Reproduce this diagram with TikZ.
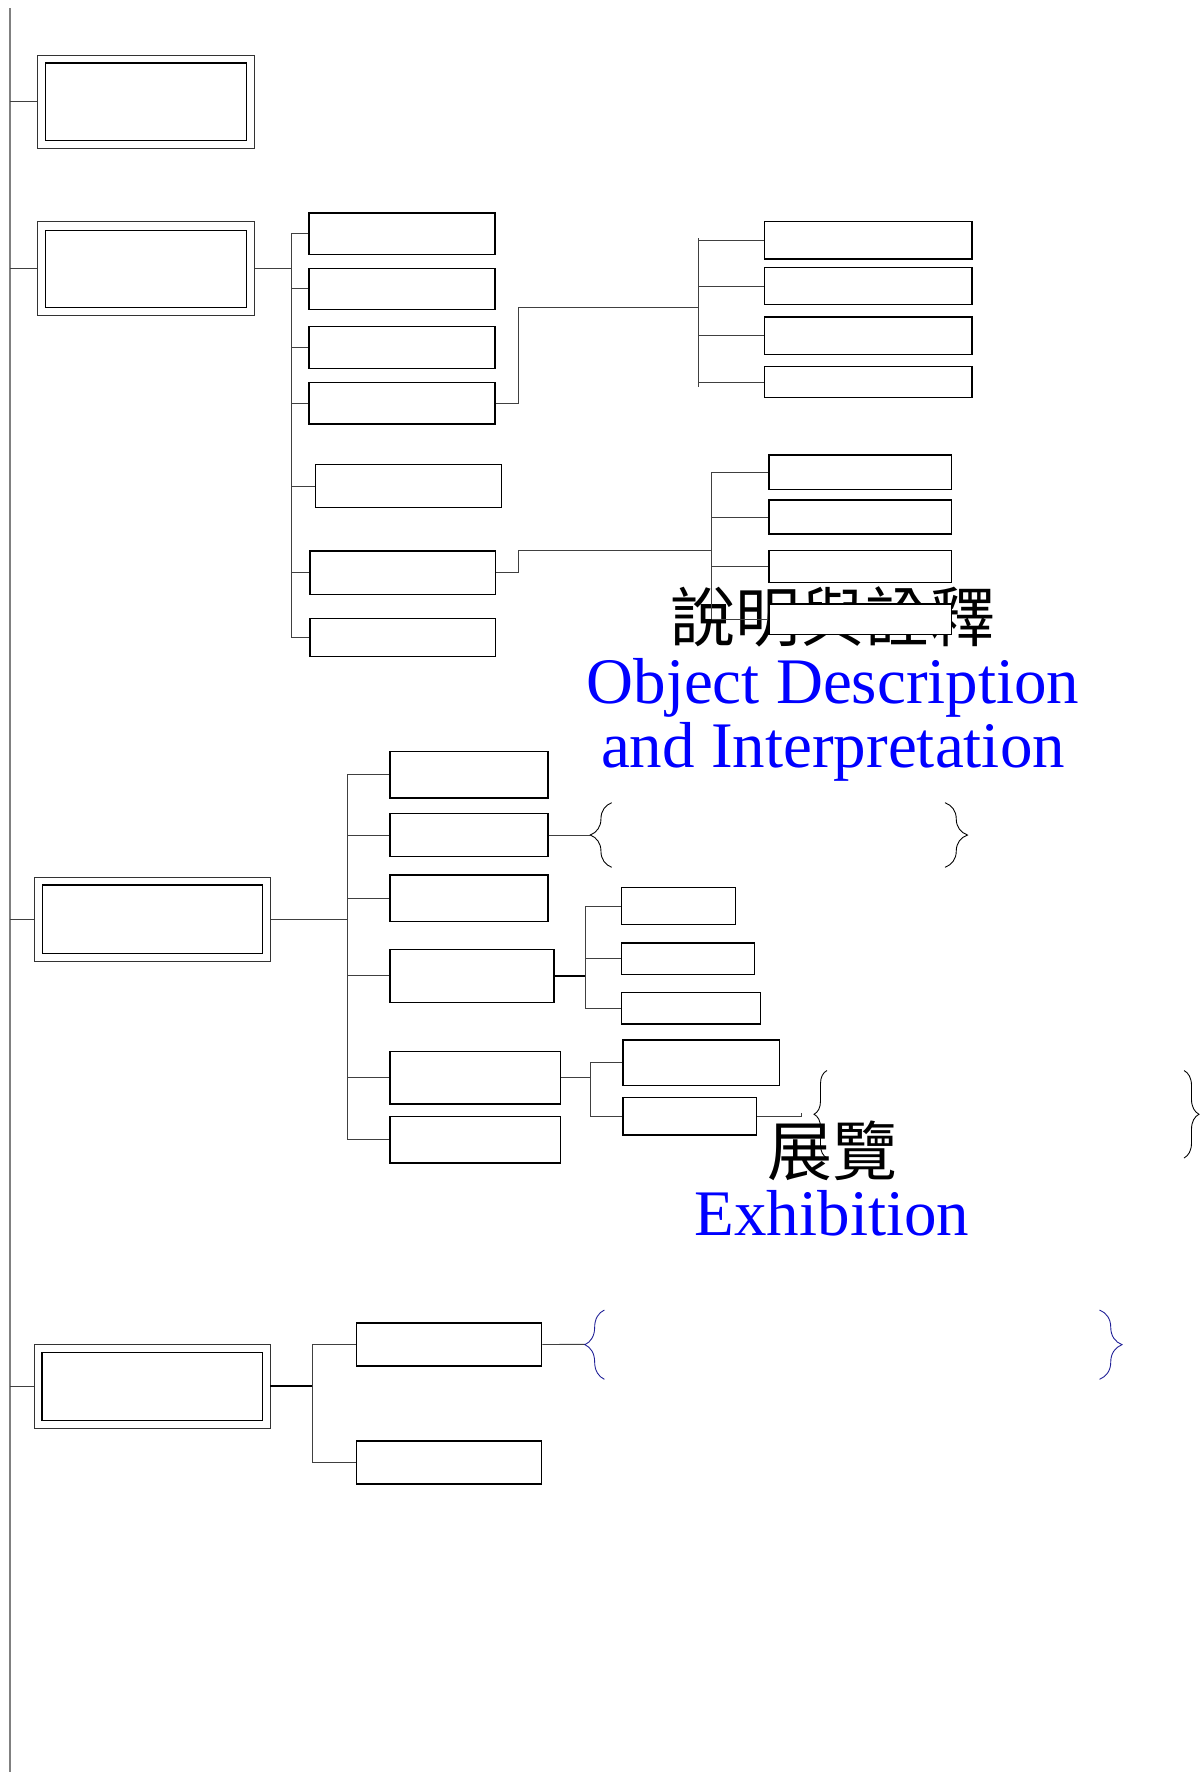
\documentclass[tikz,border=0pt]{standalone}
\usepackage{fontspec}
\setmainfont{Liberation Serif}
\newfontfamily\cjk{Noto Sans CJK TC}
\usepackage{tikz}
\usetikzlibrary{positioning,fit,calc,decorations.pathreplacing}

\tikzset{
  box/.style={draw, fill=white, line width=0.7pt, inner sep=0pt},
  outerbox/.style={draw=black!80, fill=white, line width=0.5pt, inner sep=0pt},
  innerbox/.style={draw, line width=0.6pt, inner sep=0pt},
  link/.style={draw=black!75, line width=0.5pt},
  boldlink/.style={draw=black, line width=1pt},
  spine/.style={draw=gray, line width=0.8pt},
  cbrace/.style={decorate, decoration={brace, amplitude=#1}, line width=0.5pt},
  headtxt/.style={inner sep=0pt, font=\fontsize{37}{37}\selectfont},
  entxt/.style={headtxt, text=blue},
}
\definecolor{bracenavy}{RGB}{30,30,150}

\begin{document}
\begin{tikzpicture}[x=0.02cm, y=-0.02cm]
    \useasboundingbox (0,0) rectangle (1200,1776);

    \node[headtxt, anchor=base] (descZh) at (833,641) {\cjk 說明與詮釋};
    \node[entxt, anchor=base] (descEn) at (833,703) {Object Description};
    \node[entxt, anchor=base] (descEnB) at (833,767) {and Interpretation};
    \node[headtxt, anchor=base] (exhZh) at (832,1175.5) {\cjk 展覽};
    \node[entxt, anchor=base] (exhEn) at (832,1235.7) {Exhibition};

    \node[outerbox, fit={(37.5,55.4) (254.5,148.2)}] (secA) {};
    \node[innerbox, fit={(45.5,63) (246.5,140.6)}] (secAin) {};
    \node[outerbox, fit={(37.5,221.9) (254.5,315.2)}] (secB) {};
    \node[innerbox, fit={(45.5,230.4) (246.5,307.6)}] (secBin) {};
    \node[outerbox, fit={(34.5,877.3) (270.4,961)}] (secC) {};
    \node[innerbox, fit={(42.4,885) (262.6,953.3)}] (secCin) {};
    \node[outerbox, fit={(34.4,1344.3) (270,1428.3)}] (secD) {};
    \node[innerbox, fit={(42,1352.3) (262.4,1420.3)}] (secDin) {};

    \node[box, fit={(309,213) (495,254.5)}] (b1) {};
    \node[box, fit={(309,268.3) (495,309.4)}] (b2) {};
    \node[box, fit={(309,326.3) (495,368.3)}] (b3) {};
    \node[box, fit={(309,382.6) (495,424)}] (b4) {};
    \node[box, fit={(315.7,464.3) (501.7,507.6)}] (b5) {};
    \node[box, fit={(310,551) (495.6,594.2)}] (b6) {};
    \node[box, fit={(310,618.8) (495.6,656.3)}] (b7) {};

    \node[box, fit={(764.4,221.7) (972,259)}] (r1) {};
    \node[box, fit={(764.4,267.7) (972,304.7)}] (r2) {};
    \node[box, fit={(764.4,317) (972,354.3)}] (r3) {};
    \node[box, fit={(764.4,366.7) (972,397.7)}] (r4) {};

    \node[box, fit={(769,455) (951.3,489.3)}] (s1) {};
    \node[box, fit={(769,500) (951.3,534)}] (s2) {};
    \node[box, fit={(769,550.7) (951.3,582.3)}] (s3) {};
    \node[box, fit={(769,604) (951.3,634.3)}] (s4) {};

    \node[box, fit={(390,751.7) (548,798)}] (c1) {};
    \node[box, fit={(390,813.3) (548,856.7)}] (c2) {};
    \node[box, fit={(390,875) (548,921.7)}] (c3) {};
    \node[box, fit={(390,949.3) (554,1002.3)}] (c4) {};
    \node[box, fit={(390,1051.7) (560.7,1104)}] (c5) {};
    \node[box, fit={(390,1116.3) (560.7,1163)}] (c6) {};

    \node[box, fit={(621.3,887.7) (735.4,924.7)}] (d1) {};
    \node[box, fit={(621.3,943) (754.7,974.3)}] (d2) {};
    \node[box, fit={(621.3,992.7) (760.5,1024)}] (d3) {};

    \node[box, fit={(622.9,1040) (779.8,1085.7)}] (e1) {};
    \node[box, fit={(622.9,1097.7) (756.8,1135)}] (e2) {};

    \node[box, fit={(356.5,1323) (541.7,1366)}] (f1) {};
    \node[box, fit={(356.5,1441) (541.7,1484)}] (f2) {};

    \coordinate (mtop) at (10,8);
    \coordinate (mbot) at (10,1772);
    \coordinate (busB) at (291,0);
    \coordinate (busR) at (698,0);
    \coordinate (busS) at (711.6,0);
    \coordinate (busC) at (347,0);
    \coordinate (busD) at (585.3,0);
    \coordinate (busE) at (590,0);
    \coordinate (busF) at (312.2,0);
    \coordinate (jogR) at (518,307.3);
    \coordinate (jogS) at (518.3,550.7);
    \coordinate (tipC) at (590,835);
    \coordinate (tipE) at (801.7,1113);
    \coordinate (tipF) at (585,1344.3);

    \draw[spine] (mtop) -- (mbot);
    \foreach \s in {secA,secB,secC,secD} {
        \draw[link] (\s.west -| mtop) -- (\s.west);
    }

    \draw[link] (secB.east) -- (secB.east -| busB);
    \draw[link] (b1.west -| busB) -- (b7.west -| busB);
    \foreach \n in {b1,b2,b3,b4,b5,b6,b7} {
        \draw[link] (\n.west -| busB) -- (\n.west);
    }

    \draw[link] (b4.east) -| (jogR) -- (jogR -| busR);
    \draw[link] ($(r1.west -| busR)+(0,-2)$) -- ($(r4.west -| busR)+(0,4.5)$);
    \foreach \n in {r1,r2,r3,r4} {
        \draw[link] (\n.west -| busR) -- (\n.west);
    }

    \draw[link] (b6.east) -| (jogS) -- (jogS -| busS);
    \draw[link] (s1.west -| busS) -- (s4.west -| busS);
    \foreach \n in {s1,s2,s3,s4} {
        \draw[link] (\n.west -| busS) -- (\n.west);
    }

    \draw[link] (secC.east) -- (secC.east -| busC);
    \draw[link] (c1.west -| busC) -- (c6.west -| busC);
    \foreach \n in {c1,c2,c3,c4,c5,c6} {
        \draw[link] (\n.west -| busC) -- (\n.west);
    }

    \draw[boldlink] (c4.east) -- (c4.east -| busD);
    \draw[link] (d1.west -| busD) -- (d3.west -| busD);
    \foreach \n in {d1,d2,d3} {
        \draw[link] (\n.west -| busD) -- (\n.west);
    }

    \draw[link] (c5.east) -- (c5.east -| busE);
    \draw[link] (e1.west -| busE) -- (e2.west -| busE);
    \foreach \n in {e1,e2} {
        \draw[link] (\n.west -| busE) -- (\n.west);
    }

    \draw[boldlink] (secD.east) -- (secD.east -| busF);
    \draw[link] (f1.west -| busF) -- (f2.west -| busF);
    \foreach \n in {f1,f2} {
        \draw[link] (\n.west -| busF) -- (\n.west);
    }

    \draw[link] (c2.east) -- (tipC);
    \draw[cbrace=0.43cm] (611.7,867.3) -- (611.7,802.7);
    \draw[cbrace=0.45cm] (945,802.7) -- (945,867.3);

    \draw[link] (e2.east) -| (tipE);
    \draw[cbrace=0.26cm] (827,1158) -- (827,1070.5);
    \draw[cbrace=0.3cm] (1184,1070.5) -- (1184,1158);

    \draw[link] (f1.east) -- (tipF);
    \draw[cbrace=0.39cm, bracenavy] (604.4,1379.3) -- (604.4,1310);
    \draw[cbrace=0.45cm, bracenavy] (1099.5,1310) -- (1099.5,1379.3);
\end{tikzpicture}
\end{document}
